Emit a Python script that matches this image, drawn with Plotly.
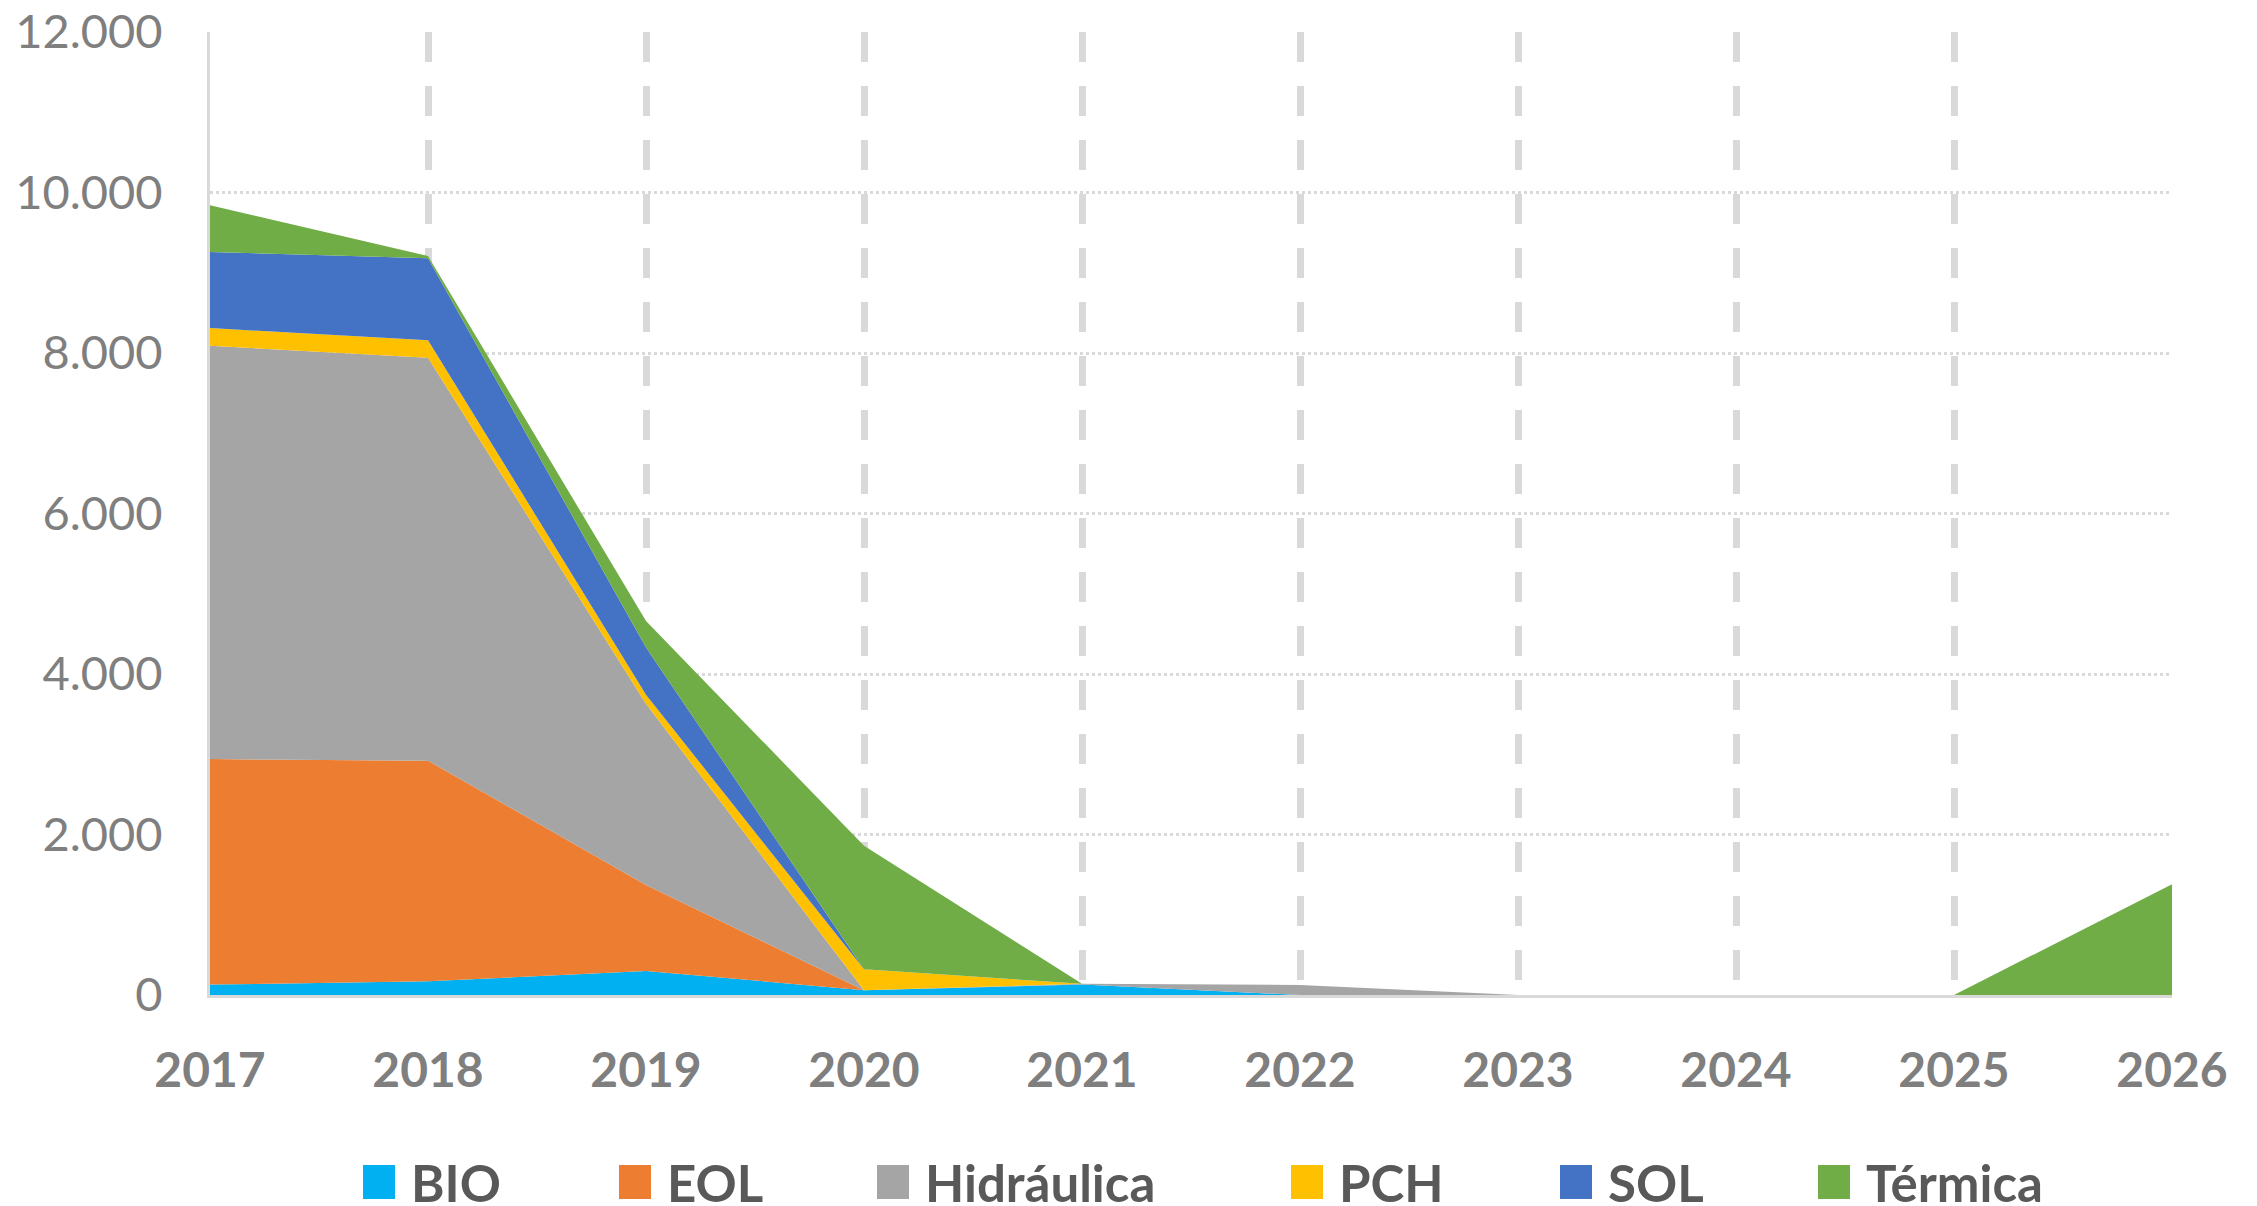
import plotly.graph_objects as go

# data
years = [2017, 2018, 2019, 2020, 2021, 2022, 2023, 2024, 2025, 2026]
bio = [130, 170, 300, 60, 130, 0, 0, 0, 0, 0]
eol = [2810, 2750, 1070, 0, 0, 0, 0, 0, 0, 0]
hidraulica = [5150, 5020, 2260, 0, 10, 125, 0, 0, 0, 0]
pch = [220, 220, 110, 260, 0, 0, 0, 0, 0, 0]
sol = [950, 1020, 590, 0, 0, 0, 0, 0, 0, 0]
termica = [580, 30, 330, 1540, 0, 0, 0, 0, 0, 1380]

names = ["BIO", "EOL", "Hidráulica", "PCH", "SOL", "Térmica"]
colors = ["#00B0F0", "#ED7D31", "#A5A5A5", "#FFC000", "#4472C4", "#70AD47"]
series = [bio, eol, hidraulica, pch, sol, termica]

# page body has an 8px margin, so shift everything by that
OFF = 8
W, H = 2257 - OFF, 1206 - OFF
# plot area in window pixels: x 210..2172, y 32..995
ML, MT = 210 - OFF, 32 - OFF
MR, MB = W - (2172 - OFF), H - (995 - OFF)
PW, PH = W - ML - MR, H - MT - MB


def px_x(x):
    return (x - OFF - ML) / PW


def px_y(y):
    return (H - MB - (y - OFF)) / PH


fig = go.Figure()
for name, vals, color in zip(names, series, colors):
    fig.add_trace(go.Scatter(x=years, y=vals, name=name, stackgroup="one",
                             mode="none", fillcolor=color, showlegend=False))

# hand made legend, Excel style big square swatches
legend_left = [363, 619, 877, 1291, 1560, 1818]
for name, color, lx in zip(names, colors, legend_left):
    fig.add_shape(type="rect", xref="paper", yref="paper",
                  x0=px_x(lx), x1=px_x(lx + 32), y0=px_y(1165), y1=px_y(1199),
                  fillcolor=color, line_width=0)
    fig.add_annotation(xref="paper", yref="paper", x=px_x(lx + 46), y=px_y(1182),
                       text=name, showarrow=False, xanchor="left", yanchor="middle",
                       font=dict(family="Lato", size=51, color="#595959", weight="bold"))

fig.update_layout(
    width=W, height=H,
    margin=dict(l=ML, r=MR, t=MT, b=MB, autoexpand=False),
    plot_bgcolor="white", paper_bgcolor="white",
    separators=",.",
    showlegend=False,
)
fig.update_xaxes(range=[2017, 2026], tickvals=years, ticks="", automargin=False,
                 showgrid=True, gridcolor="#D9D9D9", gridwidth=7, griddash="30px,24px",
                 showline=True, linecolor="#D9D9D9", linewidth=3, zeroline=False,
                 tickfont=dict(family="Lato", size=48, color="#7F7F7F", weight="bold"),
                 ticklabelstandoff=31, ticklabeloverflow="allow")
fig.update_yaxes(range=[0, 12000], dtick=2000, tickformat=",d", ticks="", automargin=False,
                 showgrid=True, gridcolor="#D9D9D9", gridwidth=3, griddash="dot",
                 showline=True, linecolor="#D9D9D9", linewidth=3, zeroline=False,
                 tickfont=dict(family="Lato", size=47, color="#7F7F7F"),
                 ticklabelstandoff=35, ticklabeloverflow="allow")

fig.write_html("out.html")
